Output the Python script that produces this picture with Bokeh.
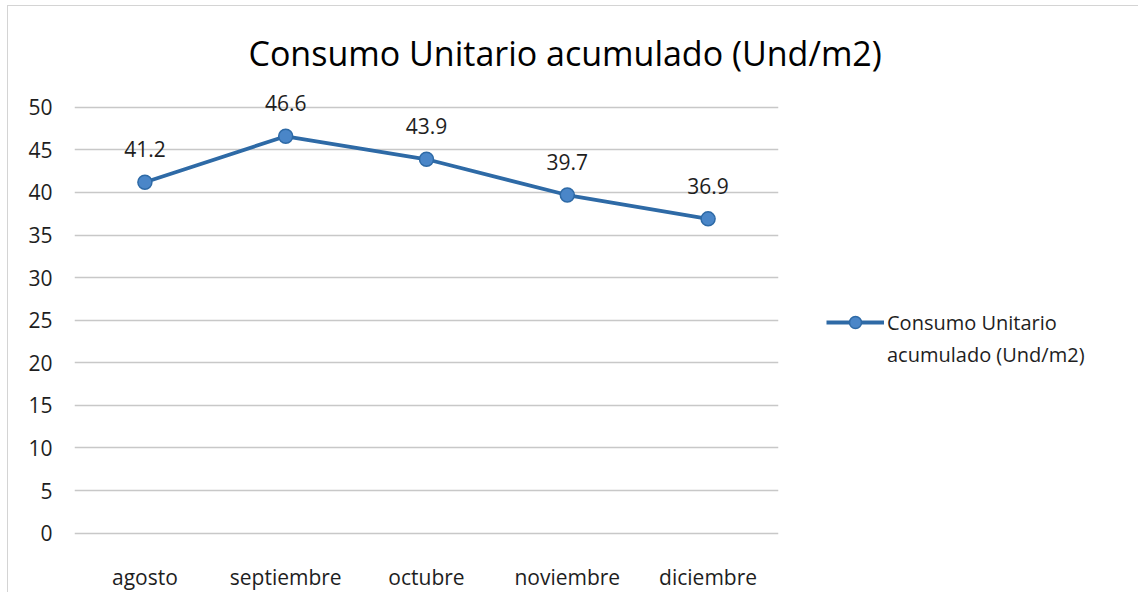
from bokeh.plotting import figure
from bokeh.models import ColumnDataSource, Range1d, FixedTicker, Legend, LegendItem, LabelSet
from bokeh.embed import file_html
from bokeh.resources import INLINE
from bokeh.core.properties import value

months = ["agosto", "septiembre", "octubre", "noviembre", "diciembre"]
consumo = [41.2, 46.6, 43.9, 39.7, 36.9]
y_ticks = [0, 5, 10, 15, 20, 25, 30, 35, 40, 45, 50]
title_text = "Consumo  Unitario acumulado (Und/m2)"
series_line1 = "Consumo Unitario"
series_line2 = "acumulado (Und/m2)"

FONT = "Open Sans"
TXT = "#1e1e1e"
BLUE = "#2E6AA6"
FILL = "#4A86C8"

src = ColumnDataSource(dict(x=months, y=consumo, lab=[f"{v:.1f}" for v in consumo]))

p = figure(frame_width=704, frame_height=459, x_range=months, y_range=Range1d(-0.4, 53.5),
           output_backend="svg", toolbar_location=None,
           min_border_left=66, min_border_right=0, min_border_top=71, min_border_bottom=55,
           styles={"border": "1px solid #d4d4d4", "margin-left": "7px", "margin-top": "5px"})

p.title.text = title_text
p.title.text_font = FONT
p.title.text_font_size = "34px"
p.title.text_font_style = "normal"
p.title.text_color = "#000000"
p.title.align = "left"
p.title.offset = 174
p.title.standoff = 3

p.outline_line_color = None
p.xgrid.grid_line_color = None
p.ygrid.grid_line_color = "#c8c8c8"
p.ygrid.grid_line_width = 1.3
p.yaxis.ticker = FixedTicker(ticks=y_ticks)

for ax in (p.xaxis[0], p.yaxis[0]):
    ax.axis_line_color = None
    ax.major_tick_line_color = None
    ax.minor_tick_line_color = None
    ax.major_label_text_font = FONT
    ax.major_label_text_font_size = "21px"
    ax.major_label_text_color = TXT
p.yaxis.major_label_standoff = 16
p.xaxis.major_label_standoff = 20

r_line = p.line("x", "y", source=src, line_color=BLUE, line_width=3.8)
r_pts = p.scatter("x", "y", source=src, size=14, fill_color=FILL, line_color=BLUE, line_width=1.5)

labels = LabelSet(x="x", y="y", text="lab", source=src, text_align="center",
                  text_baseline="alphabetic", y_offset=25,
                  text_font=value(FONT), text_font_size="21px", text_color=TXT)
p.add_layout(labels)

legend = Legend(items=[LegendItem(label=series_line1, renderers=[r_line, r_pts]),
                       LegendItem(label=series_line2, renderers=[])],
                location=(48, 167), border_line_color=None, background_fill_alpha=0,
                label_text_font=FONT, label_text_font_size="20px", label_text_color=TXT,
                glyph_width=58, glyph_height=30, label_standoff=3, padding=0, margin=20, spacing=2)
p.add_layout(legend, "right")

open("out.html", "w").write(file_html(p, INLINE))
